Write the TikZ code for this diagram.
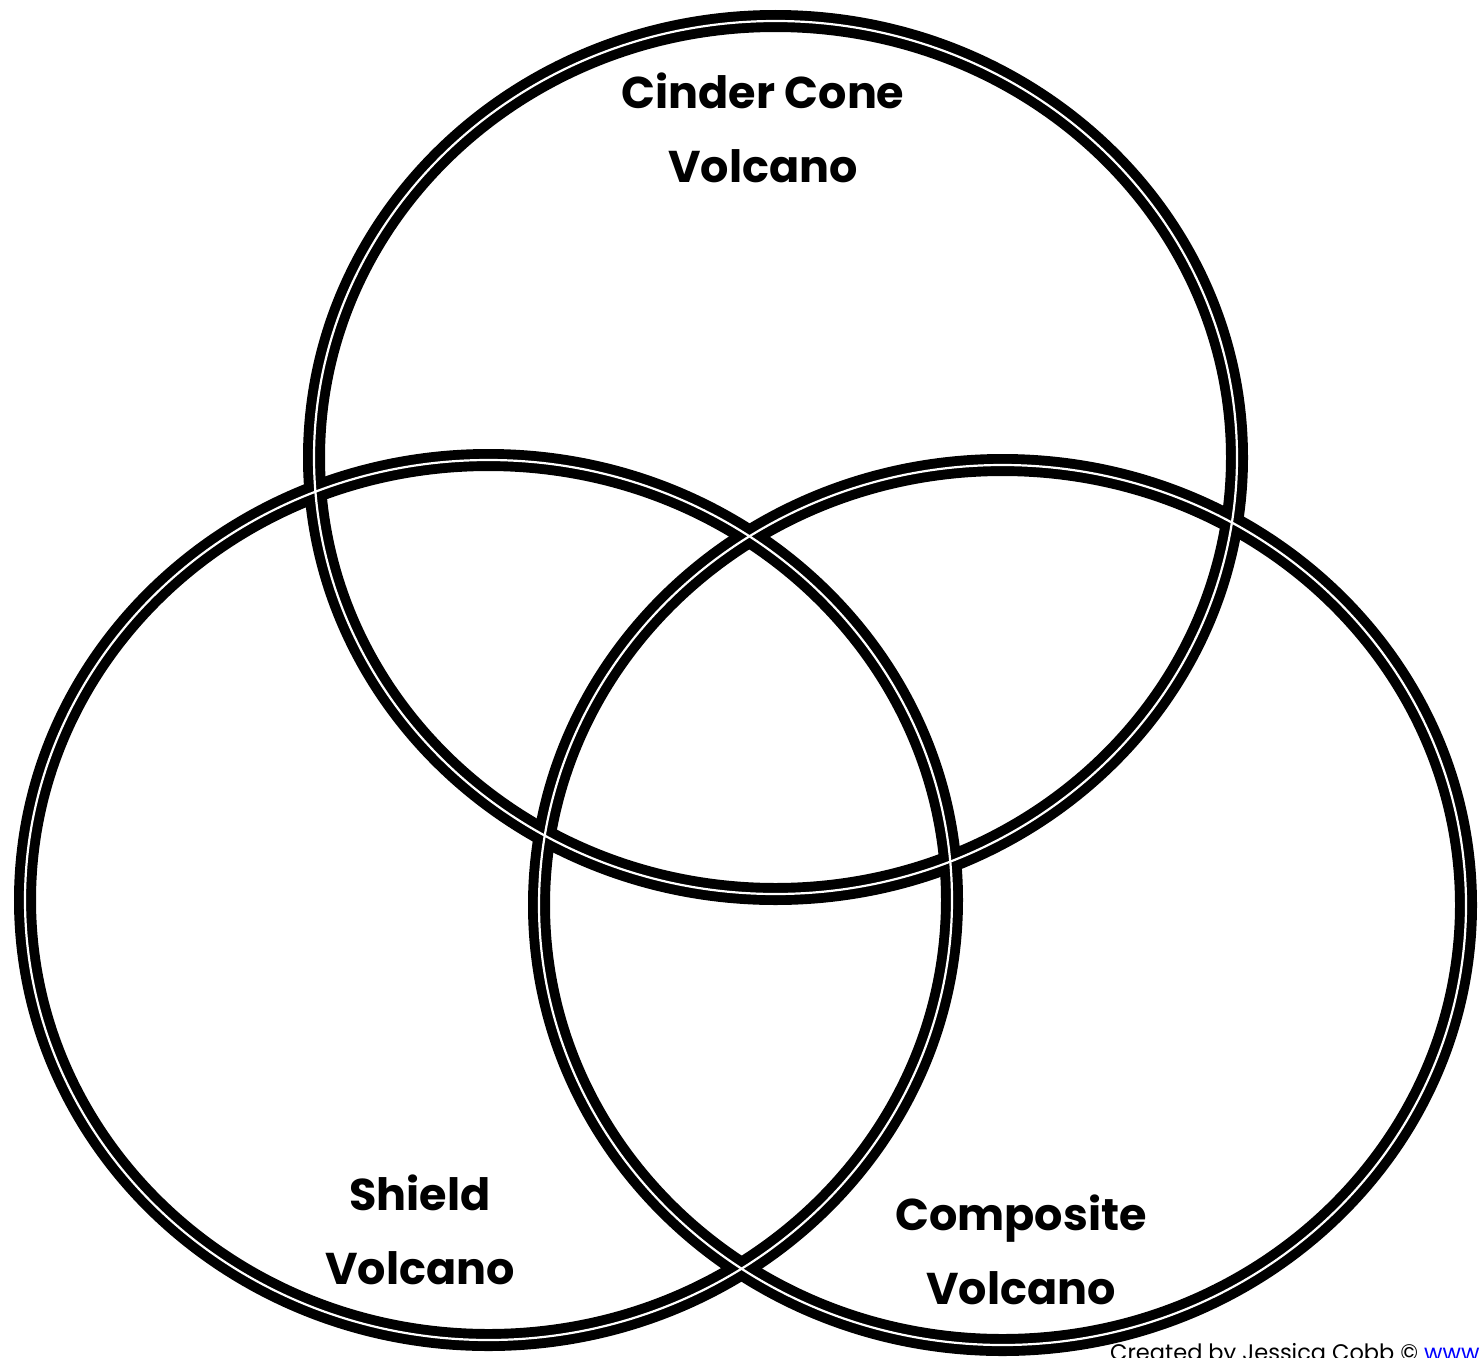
\documentclass[tikz,border=0pt]{standalone}
\usepackage{fontspec}
\setmainfont{Poppins}
\definecolor{linkblue}{RGB}{0,0,255}
\begin{document}
\begin{tikzpicture}[x=1pt,y=-1pt,
  ringout/.style={draw=black,line width=22pt},
  ringin/.style={draw=white,line width=2.2pt},
  biglabel/.style={font=\fontsize{44.5}{74}\selectfont\bfseries, align=center, inner sep=0pt, text=black},
  footer/.style={font=\fontsize{22.5}{28}\selectfont, inner sep=0pt, anchor=base west}]
\useasboundingbox (0,0) rectangle (1480,1357);
\fill[white] (0,0) rectangle (1480,1357);
\coordinate (cT) at (775.5,457.5);
\coordinate (cL) at (488.5,900);
\coordinate (cR) at (1002.5,905);
\foreach \c/\rx/\ry in {cT/461.5/436.5, cL/463.5/440, cR/463.5/440}
  \draw[ringout] (\c) ellipse [x radius=\rx, y radius=\ry];
\foreach \c/\rx/\ry in {cT/461.5/436.5, cL/463.5/440, cR/463.5/440}
  \draw[ringin] (\c) ellipse [x radius=\rx, y radius=\ry];
\node[biglabel] (tcinder) at (763,128) {Cinder Cone\\Volcano};
\node[biglabel] (tshield) at (420,1230) {Shield\\Volcano};
\node[biglabel] (tcomp) at (1021,1250) {Composite\\Volcano};
\node[footer] (credit) at (1110,1360) {Created by Jessica Cobb © \textcolor{linkblue}{\underline{www.l}}};
\end{tikzpicture}
\end{document}
